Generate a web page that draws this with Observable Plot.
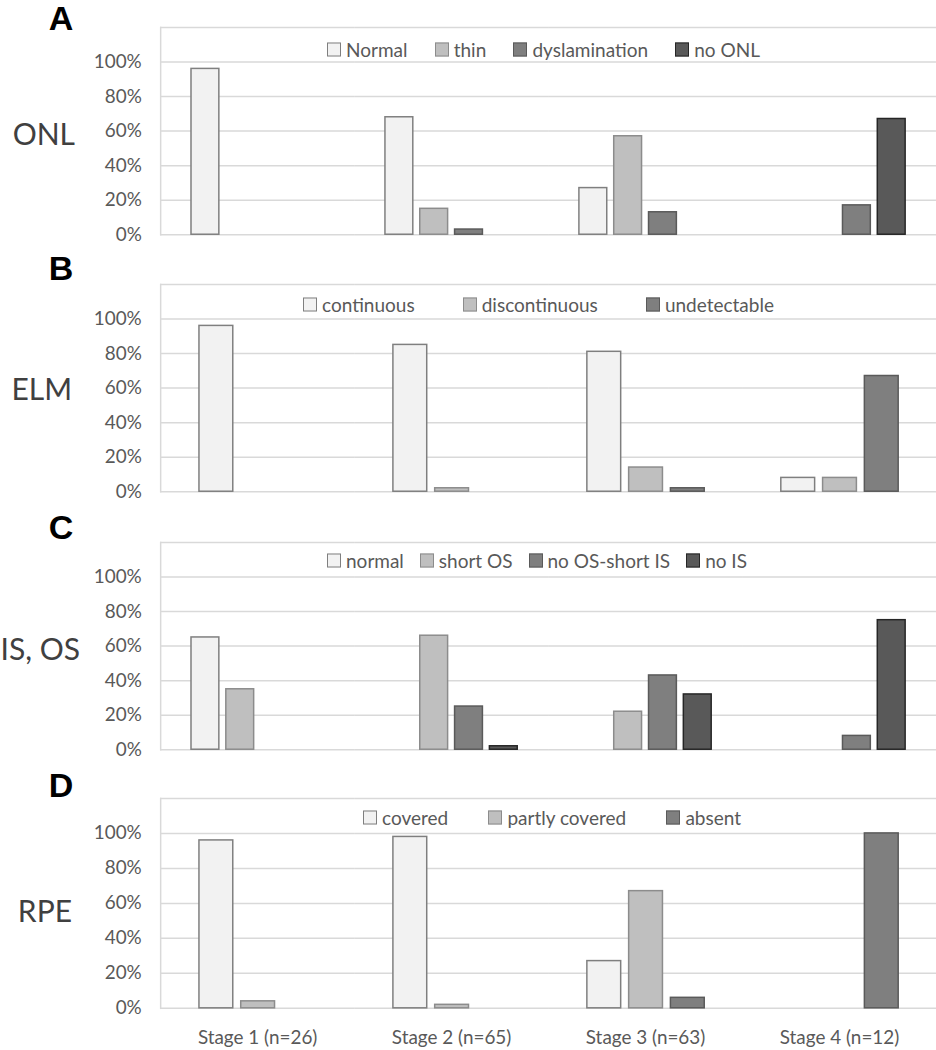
<!DOCTYPE html>
<html><head><meta charset="utf-8">
<script src="https://cdn.jsdelivr.net/npm/d3@7"></script>
<script src="https://cdn.jsdelivr.net/npm/@observablehq/plot@0.6"></script>
<style>
body{margin:0;background:#fff;}
#wrap{position:relative;width:936px;height:1050px;overflow:hidden;font-family:Lato,"Open Sans",sans-serif;}
.panel{position:absolute;left:0;}
.letter{position:absolute;font-family:"Liberation Sans",Arial,sans-serif;font-weight:bold;font-size:34px;color:#000;line-height:1;transform:translate(-50%,-50%);}
.rowlab{position:absolute;font-size:30px;color:#404040;line-height:1;transform:translate(-100%,-50%);white-space:nowrap;}
.legend{position:absolute;display:flex;justify-content:space-between;align-items:center;transform:translateY(-50%);font-size:19px;color:#595959;white-space:nowrap;line-height:1;}
.item{display:flex;align-items:center;}
.sw{display:inline-block;width:12px;height:12px;border:1.5px solid;margin-right:5px;}
</style>
</head><body>
<div id="wrap"></div>
<script>
// ---- data ----
const stages = ["Stage 1 (n=26)", "Stage 2 (n=65)", "Stage 3 (n=63)", "Stage 4 (n=12)"];
const yTicks = [0, 20, 40, 60, 80, 100];

const onlCats = ["Normal", "thin", "dyslamination", "no ONL"];
const onlNormal = [96, 68, 27, 0];
const onlThin = [0, 15, 57, 0];
const onlDysl = [0, 3, 13, 17];
const onlNone = [0, 0, 0, 67];

const elmCats = ["continuous", "discontinuous", "undetectable"];
const elmCont = [96, 85, 81, 8];
const elmDisc = [0, 2, 14, 8];
const elmUnd = [0, 0, 2, 67];

const isosCats = ["normal", "short OS", "no OS-short IS", "no IS"];
const isosNormal = [65, 0, 0, 0];
const isosShortOS = [35, 66, 22, 0];
const isosNoOS = [0, 25, 43, 8];
const isosNoIS = [0, 2, 32, 75];

const rpeCats = ["covered", "partly covered", "absent"];
const rpeCovered = [96, 98, 27, 0];
const rpePartly = [4, 2, 67, 0];
const rpeAbsent = [0, 0, 6, 100];

const fills = ["#f2f2f2", "#bfbfbf", "#7f7f7f", "#595959"];
const strokes = ["#7f7f7f", "#8c8c8c", "#5a5a5a", "#262626"];

const wrap = document.getElementById("wrap");

function addDiv(cls, text, left, top) {
  const d = document.createElement("div");
  d.className = cls;
  d.textContent = text;
  d.style.left = left + "px";
  d.style.top = top + "px";
  wrap.appendChild(d);
  return d;
}

function panel(cfg) {
  const {letter, rowLabel, cats, series, frameTop, plotH, showX, letterY, rowX, rowY, legLeft, legWidth, legY} = cfg;
  const rows = [];
  stages.forEach((s, i) => cats.forEach((c, j) => {
    const v = series[j][i];
    if (v > 0) rows.push({stage: s, cat: c, value: v, fill: fills[j], stroke: strokes[j]});
  }));
  const mt = 10, mb = showX ? 45 : 16;
  const chart = Plot.plot({
    width: 941,
    height: mt + plotH + mb,
    marginTop: mt,
    marginBottom: mb,
    marginLeft: 161,
    marginRight: 0,
    style: {fontFamily: "Lato, sans-serif", fontSize: "19px", color: "#595959", background: "transparent"},
    fx: {domain: stages, padding: 0, axis: showX ? "bottom" : null, tickSize: 0, tickPadding: 22, label: null},
    x: {domain: cats, paddingInner: 0.2, paddingOuter: 0.88, axis: null},
    y: {domain: [0, 120], ticks: yTicks, tickFormat: d => d + "%", tickSize: 0, tickPadding: 19, label: null},
    color: {type: "identity"},
    marks: [
      Plot.ruleY(yTicks, {stroke: "#d9d9d9", strokeWidth: 1.5}),
      Plot.ruleY([120], {stroke: "#d9d9d9", strokeWidth: 1.5}),
      Plot.frame({anchor: "left", stroke: "#d9d9d9", strokeWidth: 1.5, fx: [stages[0]]}),
      Plot.barY(rows, {fx: "stage", x: "cat", y: "value", fill: "fill", stroke: "stroke", strokeWidth: 1.5})
    ]
  });
  chart.classList.add("panel");
  chart.style.position = "absolute";
  chart.style.top = (frameTop - mt) + "px";
  chart.style.left = "0px";
  wrap.appendChild(chart);

  addDiv("letter", letter, 61, letterY);
  addDiv("rowlab", rowLabel, rowX, rowY);

  const leg = document.createElement("div");
  leg.className = "legend";
  leg.style.left = legLeft + "px";
  leg.style.width = legWidth + "px";
  leg.style.top = legY + "px";
  cats.forEach((c, j) => {
    const it = document.createElement("span");
    it.className = "item";
    const sw = document.createElement("span");
    sw.className = "sw";
    sw.style.background = fills[j];
    sw.style.borderColor = strokes[j];
    it.appendChild(sw);
    it.appendChild(document.createTextNode(c));
    leg.appendChild(it);
  });
  wrap.appendChild(leg);
}

panel({letter: "A", rowLabel: "ONL", cats: onlCats, series: [onlNormal, onlThin, onlDysl, onlNone],
  frameTop: 27.3, plotH: 208.4, showX: false, letterY: 18, rowX: 75, rowY: 133, legLeft: 327, legWidth: 433, legY: 49});
panel({letter: "B", rowLabel: "ELM", cats: elmCats, series: [elmCont, elmDisc, elmUnd],
  frameTop: 284, plotH: 208.4, showX: false, letterY: 268, rowX: 72, rowY: 388, legLeft: 303, legWidth: 471, legY: 304});
panel({letter: "C", rowLabel: "IS, OS", cats: isosCats, series: [isosNormal, isosShortOS, isosNoOS, isosNoIS],
  frameTop: 542.3, plotH: 208.4, showX: false, letterY: 527, rowX: 80, rowY: 648, legLeft: 327, legWidth: 420, legY: 560});
panel({letter: "D", rowLabel: "RPE", cats: rpeCats, series: [rpeCovered, rpePartly, rpeAbsent],
  frameTop: 798.3, plotH: 211, showX: true, letterY: 785, rowX: 72, rowY: 910, legLeft: 363, legWidth: 378, legY: 817});
</script>
</body></html>
